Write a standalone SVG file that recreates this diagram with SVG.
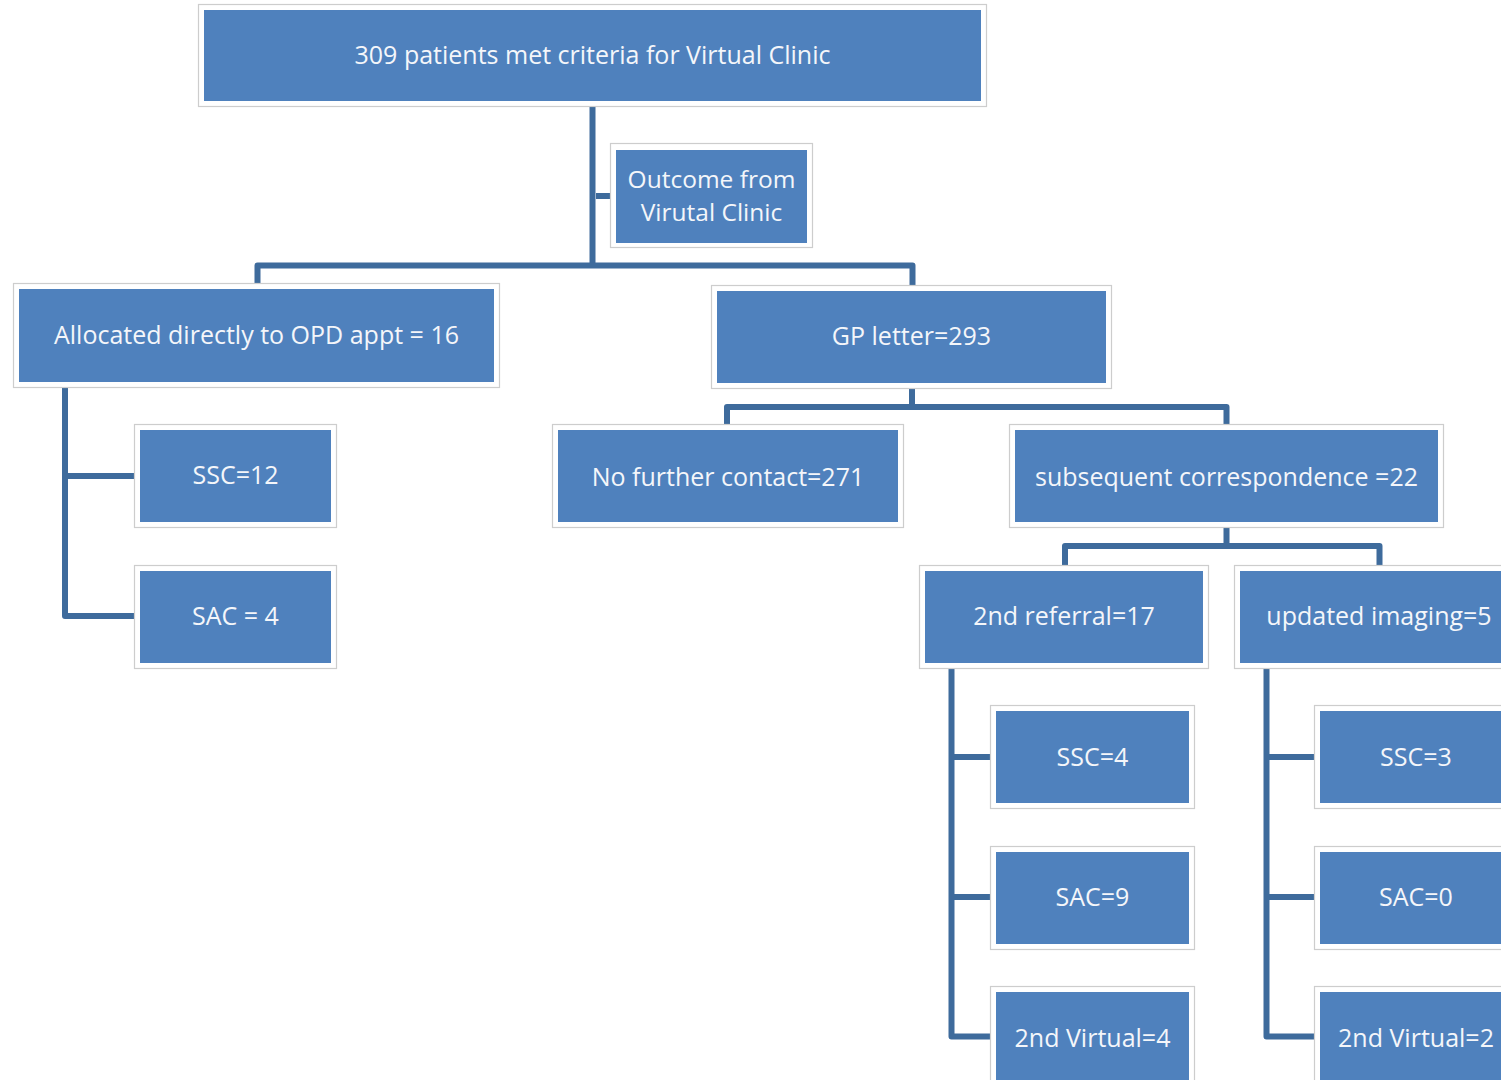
<svg xmlns="http://www.w3.org/2000/svg" width="1501" height="1080" viewBox="0 0 1501 1080">
<style>
.frame{fill:#ffffff;stroke:#cdcdcd;stroke-width:1.2}
.box{fill:#4f81bd}
.t{font-family:"Open Sans","Liberation Sans",Arial,sans-serif;font-size:25px;fill:#f4f6fa;text-anchor:middle}
.t2{font-family:"Open Sans","Liberation Sans",Arial,sans-serif;font-size:24.5px;fill:#f4f6fa;text-anchor:middle}
.c{fill:none;stroke:#3e6b9c;stroke-width:6;stroke-linejoin:round}
</style>
<rect width="1501" height="1080" fill="#ffffff"/>
<g id="connectors">
<path class="c" d="M592.5 101 V265.5"/>
<path class="c" d="M596 196 H612"/>
<path class="c" d="M257.5 288 V265.5 H912.5 V289"/>
<path class="c" d="M65 385 V616 H136"/>
<path class="c" d="M65 476 H136"/>
<path class="c" d="M912 385 V407 H727 V426"/>
<path class="c" d="M912 407 H1226.5 V426"/>
<path class="c" d="M1226.5 525 V546 H1065 V567"/>
<path class="c" d="M1226.5 546 H1379.5 V567"/>
<path class="c" d="M951.5 666 V1036.5 H993"/>
<path class="c" d="M951.5 757 H993"/>
<path class="c" d="M951.5 897 H993"/>
<path class="c" d="M1266.5 666 V1036.5 H1316"/>
<path class="c" d="M1266.5 757 H1316"/>
<path class="c" d="M1266.5 897 H1316"/>
</g>
<g id="n1"><rect class="frame" x="198.5" y="4.5" width="788" height="102"/><rect class="box" x="204" y="10" width="777" height="91"/><text class="t" x="592.5" y="64">309 patients met criteria for Virtual Clinic</text></g>
<g id="n2"><rect class="frame" x="610.5" y="143.5" width="202" height="104"/><rect class="box" x="616" y="150" width="191" height="93"/><text class="t2" x="711.5" y="188">Outcome from</text><text class="t2" x="711.5" y="221">Virutal Clinic</text></g>
<g id="n3"><rect class="frame" x="13.5" y="283.5" width="486" height="104"/><rect class="box" x="19" y="289" width="475" height="93"/><text class="t" x="256.5" y="344">Allocated directly to OPD appt = 16</text></g>
<g id="n4"><rect class="frame" x="711.5" y="285.5" width="400" height="103"/><rect class="box" x="717" y="291" width="389" height="92"/><text class="t" x="911.5" y="345">GP letter=293</text></g>
<g id="n5"><rect class="frame" x="134.5" y="424.5" width="202" height="103"/><rect class="box" x="140" y="430" width="191" height="92"/><text class="t" x="235.5" y="484">SSC=12</text></g>
<g id="n6"><rect class="frame" x="134.5" y="565.5" width="202" height="103"/><rect class="box" x="140" y="571" width="191" height="92"/><text class="t" x="235.5" y="625">SAC = 4</text></g>
<g id="n7"><rect class="frame" x="552.5" y="424.5" width="351" height="103"/><rect class="box" x="558" y="430" width="340" height="92"/><text class="t" x="728" y="486">No further contact=271</text></g>
<g id="n8"><rect class="frame" x="1009.5" y="424.5" width="434" height="103"/><rect class="box" x="1015" y="430" width="423" height="92"/><text class="t" x="1226.5" y="486">subsequent correspondence =22</text></g>
<g id="n9"><rect class="frame" x="919.5" y="565.5" width="289" height="103"/><rect class="box" x="925" y="571" width="278" height="92"/><text class="t" x="1064" y="625">2nd referral=17</text></g>
<g id="n10"><rect class="frame" x="1234.5" y="565.5" width="289" height="103"/><rect class="box" x="1240" y="571" width="278" height="92"/><text class="t" x="1379" y="625">updated imaging=5</text></g>
<g id="n11"><rect class="frame" x="990.5" y="705.5" width="204" height="103"/><rect class="box" x="996" y="711" width="193" height="92"/><text class="t" x="1092.5" y="766">SSC=4</text></g>
<g id="n12"><rect class="frame" x="990.5" y="846.5" width="204" height="103"/><rect class="box" x="996" y="852" width="193" height="92"/><text class="t" x="1092.5" y="906">SAC=9</text></g>
<g id="n13"><rect class="frame" x="990.5" y="986.5" width="204" height="103"/><rect class="box" x="996" y="992" width="193" height="92"/><text class="t" x="1092.5" y="1047">2nd Virtual=4</text></g>
<g id="n14"><rect class="frame" x="1314.5" y="705.5" width="204" height="103"/><rect class="box" x="1320" y="711" width="193" height="92"/><text class="t" x="1416" y="766">SSC=3</text></g>
<g id="n15"><rect class="frame" x="1314.5" y="846.5" width="204" height="103"/><rect class="box" x="1320" y="852" width="193" height="92"/><text class="t" x="1416" y="906">SAC=0</text></g>
<g id="n16"><rect class="frame" x="1314.5" y="986.5" width="204" height="103"/><rect class="box" x="1320" y="992" width="193" height="92"/><text class="t" x="1416" y="1047">2nd Virtual=2</text></g>
</svg>
